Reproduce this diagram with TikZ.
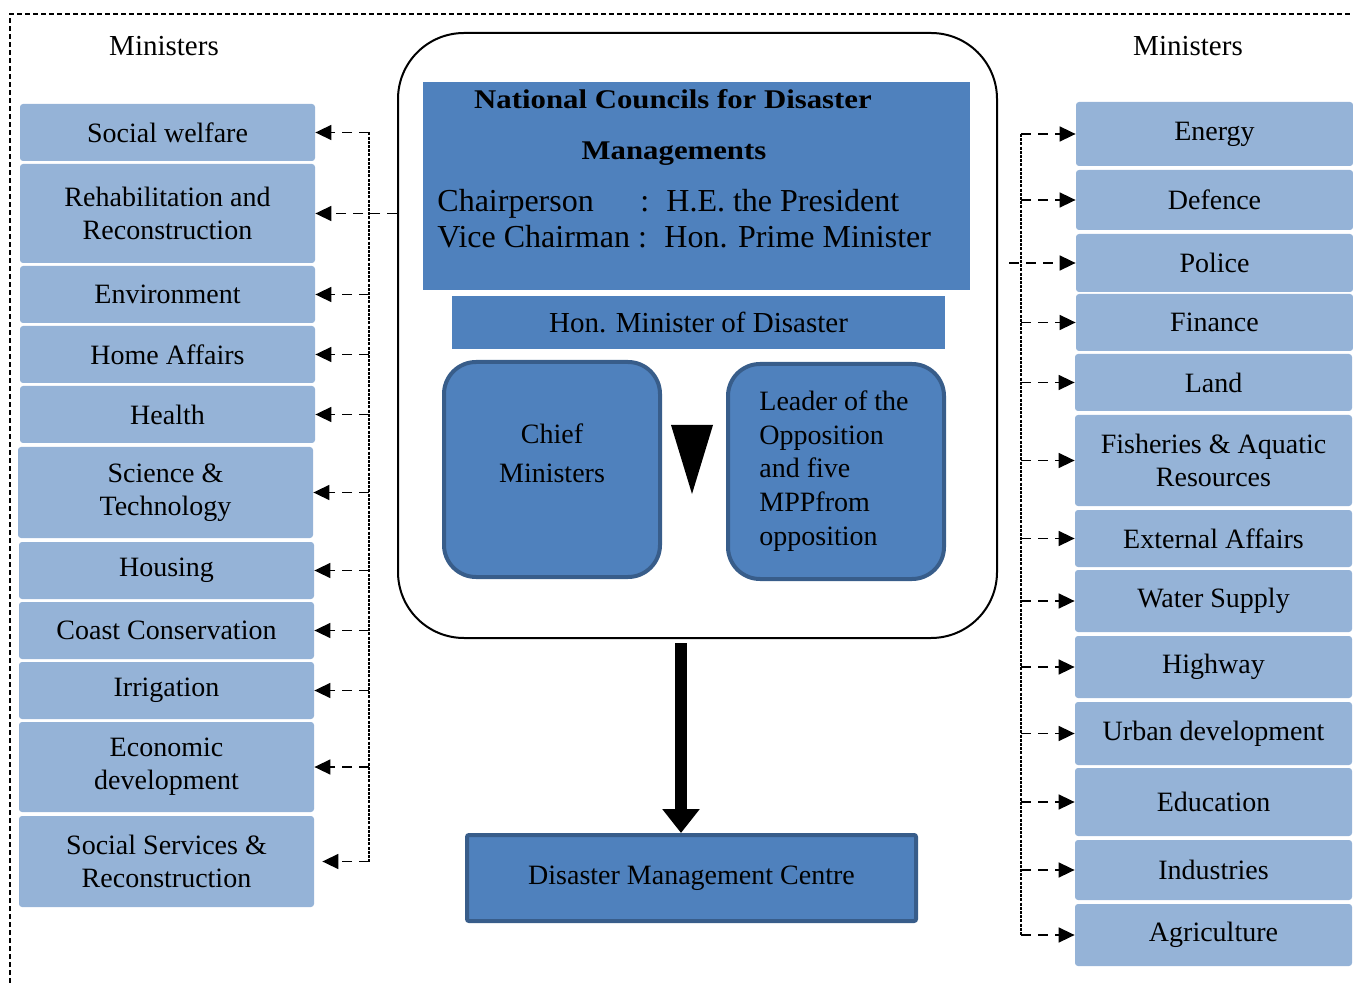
\documentclass[tikz,border=0pt]{standalone}
\usepackage{fontspec}
\setmainfont{Liberation Serif}
\newfontfamily\titlefont[FakeStretch=1.14]{Liberation Serif}
\usetikzlibrary{arrows.meta}
\definecolor{lightblue}{HTML}{95B3D7}
\definecolor{midblue}{HTML}{4F81BD}
\definecolor{edgeblue}{HTML}{385D8A}
\tikzset{
  minbox/.style={fill=lightblue, rounded corners=1.5pt, inner sep=0pt, align=center,
    font=\fontsize{14}{16.5}\selectfont},
  lbox/.style={minbox, minimum width=147.5pt},
  rbox/.style={minbox, minimum width=138.5pt},
  darkbox/.style={fill=midblue, draw=edgeblue, line width=2pt, rounded corners=16pt,
    minimum width=108pt, minimum height=107.5pt, inner sep=0pt},
  plainblue/.style={fill=midblue, inner sep=0pt},
  darr/.style={dash pattern=on 5pt off 3.5pt, line width=0.8pt,
    -{Triangle[length=8pt,width=7.5pt]}},
  busline/.style={dash pattern=on 1.5pt off 0.6pt, line width=0.9pt},
  txt/.style={inner sep=0pt, font=\fontsize{14}{17}\selectfont},
  chairtxt/.style={inner sep=0pt, anchor=base west, font=\fontsize{16}{19}\selectfont},
  headtxt/.style={inner sep=0pt, anchor=base, font={\titlefont\bfseries\fontsize{13.5}{16}\selectfont}},
}
\begin{document}
\begin{tikzpicture}[x=0.5pt,y=-0.5pt]
\useasboundingbox (0,0) rectangle (1353,983);

% outer dashed frame
\draw[dash pattern=on 2.5pt off 1.5pt, line width=0.6pt] (10,983) -- (10,14) -- (1353,14);

% column headings
\node[txt, anchor=base, font=\fontsize{14.5}{17}\selectfont] (lhead) at (164,56) {Ministers};
\node[txt, anchor=base, font=\fontsize{14.5}{17}\selectfont] (rhead) at (1188,56) {Ministers};

% left-hand ministries
\node[lbox, minimum height=28.5pt] (sw)  at (167.5,132.5) {Social welfare};
\node[lbox, minimum height=49.5pt] (rr)  at (167.5,213.5) {Rehabilitation and\\Reconstruction};
\node[lbox, minimum height=28.5pt] (env) at (167.5,294.5) {Environment};
\node[lbox, minimum height=28.5pt] (home) at (167.5,354.5) {Home Affairs};
\node[lbox, minimum height=28.5pt] (health) at (167.5,414.5) {Health};
\node[lbox, minimum height=45.5pt] (sci) at (165.5,492.5) {Science \&\\Technology};
\node[lbox, minimum height=28.5pt] (housing) at (166.5,570.5) {Housing};
\node[lbox, minimum height=28.5pt] (coast) at (166.5,630.5) {Coast Conservation};
\node[lbox, minimum height=28.5pt] (irr) at (166.5,690.5) {Irrigation};
\node[lbox, minimum height=45pt]   (eco) at (166.5,767) {Economic\\development};
\node[lbox, minimum height=45.5pt] (ssr) at (166.5,861.5) {Social Services \&\\Reconstruction};

% right-hand ministries
\node[rbox, minimum height=32pt]   (energy)  at (1214.5,134) {Energy};
\node[rbox, minimum height=30pt]   (defence) at (1214.5,200) {Defence};
\node[rbox, minimum height=29pt]   (police)  at (1214.5,263) {Police};
\node[rbox, minimum height=28.5pt] (finance) at (1214.5,322.5) {Finance};
\node[rbox, minimum height=28.5pt] (land)    at (1213.5,382.5) {Land};
\node[rbox, minimum height=45.5pt] (fish)    at (1213.5,460.5) {Fisheries \& Aquatic\\Resources};
\node[rbox, minimum height=28.5pt] (ext)     at (1213.5,538.5) {External Affairs};
\node[rbox, minimum height=31pt]   (water)   at (1213.5,601) {Water Supply};
\node[rbox, minimum height=31pt]   (highway) at (1213.5,667) {Highway};
\node[rbox, minimum height=31.5pt] (urban)   at (1213.5,733.5) {Urban development};
\node[rbox, minimum height=34pt]   (edu)     at (1213.5,802) {Education};
\node[rbox, minimum height=30pt]   (ind)     at (1213.5,870) {Industries};
\node[rbox, minimum height=31pt]   (agri)    at (1213.5,935) {Agriculture};

% national council frame
\node[draw, line width=1pt, rounded corners=33pt, minimum width=299.5pt,
      minimum height=302.5pt, inner sep=0pt] (council) at (697.5,335.5) {};

% council heading block
\node[plainblue, minimum width=273.5pt, minimum height=104pt] (title) at (696.5,186) {};
\node[headtxt] (t1) at (673,109) {National Councils for Disaster};
\node[headtxt] (t2) at (674,160) {Managements};
\node[chairtxt] (c1) at (437,212) {Chairperson};
\node[chairtxt] (c2) at (640,212) {:};
\node[chairtxt] (c3) at (666,212) {H.E. the President};
\node[chairtxt] (v1) at (437,248) {Vice Chairman :};
\node[chairtxt] (v2) at (664,248) {Hon. Prime Minister};

% minister of disaster
\node[plainblue, minimum width=246.5pt, minimum height=26.5pt,
      font=\fontsize{14.5}{17}\selectfont] (hon) at (698.5,322.5) {Hon. Minister of Disaster};

% members
\node[darkbox] (chief) at (552,469.5) {};
\node[txt, align=center, font=\fontsize{14}{19.5}\selectfont] (chieftext) at (552,453) {Chief\\Ministers};
\node[darkbox] (leader) at (836,471.5) {};
\node[txt, align=left, anchor=west, font=\fontsize{14}{16.9}\selectfont] (leadertext) at (759,471)
  {Leader of the\\Opposition\\and five\\MPPfrom\\opposition};
\fill (671,425) -- (713,425) -- (692,494) -- cycle;

% disaster management centre
\node[fill=midblue, draw=edgeblue, line width=2pt, rounded corners=1pt, minimum width=224.5pt,
      minimum height=43pt, font=\fontsize{14}{17}\selectfont] (dmc) at (691.5,878) {Disaster Management Centre};
\draw[line width=6pt, -{Triangle[length=12pt,width=18pt]}]
  ([xshift=-8.25pt,yshift=-2pt]council.south) -- ([xshift=-5.25pt]dmc.north);

% left distribution bus
\coordinate (lbus) at (369,0);
\draw[busline] (lbus |- sw.east) -- (lbus |- ssr.east);
\foreach \m in {sw,env,home,health,sci,housing,coast,irr,eco}
  \draw[darr] (lbus |- \m.east) -- (\m.east);
\draw[darr] (lbus |- ssr.east) -- ([xshift=4pt]ssr.east);
\draw[darr] (council.west |- rr.east) -- (rr.east);

% right distribution bus
\coordinate (rbus) at (1021,0);
\draw[busline] (rbus |- energy.west) -- (rbus |- agri.west);
\foreach \m in {energy,defence,finance,land,fish,ext,water,highway,urban,edu,ind,agri}
  \draw[darr] (rbus |- \m.west) -- (\m.west);
\draw[darr] ([xshift=5.5pt]council.east |- police.west) -- (police.west);
\end{tikzpicture}
\end{document}
